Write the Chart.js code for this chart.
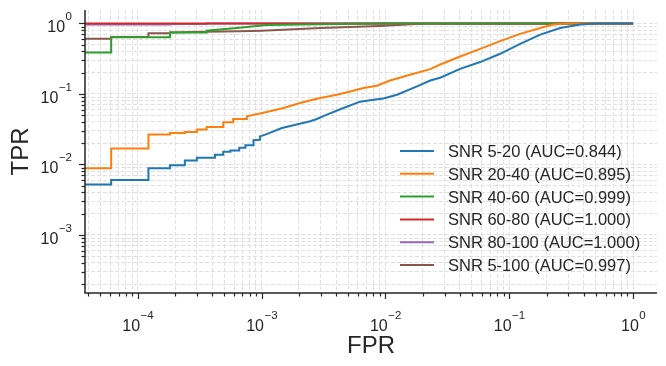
<!DOCTYPE html>
<html>
<head>
<meta charset="utf-8">
<script src="https://cdn.jsdelivr.net/npm/chart.js@4.4.1/dist/chart.umd.min.js"></script>
<style>
  body { margin: 0; background: #fff; }
</style>
</head>
<body>
<canvas id="roc" width="666" height="366"></canvas>
<script>
// ROC curves (fpr / tpr pairs, step corners included)
const seriesLabels = [
  'SNR 5-20 (AUC=0.844)',
  'SNR 20-40 (AUC=0.895)',
  'SNR 40-60 (AUC=0.999)',
  'SNR 60-80 (AUC=1.000)',
  'SNR 80-100 (AUC=1.000)',
  'SNR 5-100 (AUC=0.997)'
];
const seriesColors = ['#1f77b4', '#ff7f0e', '#2ca02c', '#d62728', '#9467bd', '#8c564b'];

const fpr5to20 = [2e-5, 6.1e-5, 6.1e-5, 1.22e-4, 1.22e-4, 1.82e-4, 1.82e-4, 2.4e-4, 2.4e-4, 3.0e-4, 3.0e-4, 4.2e-4, 4.2e-4,
  4.9e-4, 4.9e-4, 5.6e-4, 5.6e-4, 6.6e-4, 6.6e-4, 7.4e-4, 7.4e-4, 8.6e-4, 8.6e-4, 9.7e-4, 9.7e-4, 1.07e-3, 1.46e-3,
  1.81e-3, 2.47e-3, 2.79e-3, 3.37e-3, 4.58e-3, 6.25e-3, 8.0e-3, 9.64e-3, 0.0124, 0.018, 0.023, 0.0277, 0.0401, 0.0582,
  0.0845, 0.1225, 0.178, 0.258, 0.374, 0.51, 1];
const tpr5to20 = [0.0052, 0.0052, 0.0060, 0.0060, 0.0088, 0.0088, 0.0097, 0.0097, 0.0114, 0.0114, 0.0124, 0.0124, 0.0137,
  0.0137, 0.0151, 0.0151, 0.0157, 0.0157, 0.0172, 0.0172, 0.0187, 0.0187, 0.0220, 0.0223, 0.025, 0.0265, 0.0329,
  0.0359, 0.0409, 0.0441, 0.0508, 0.0631, 0.0776, 0.0828, 0.0863, 0.0975, 0.1277, 0.155, 0.1695, 0.227, 0.283,
  0.371, 0.513, 0.695, 0.863, 0.962, 1.0, 1.0];

const fpr20to40 = [2e-5, 6.1e-5, 6.1e-5, 1.22e-4, 1.22e-4, 1.82e-4, 1.82e-4, 2.4e-4, 2.4e-4, 3.0e-4, 3.0e-4, 3.6e-4, 3.6e-4,
  4.9e-4, 4.9e-4, 5.9e-4, 5.9e-4, 7.6e-4, 7.6e-4, 9.7e-4, 1.17e-3, 1.5e-3, 2.05e-3, 2.79e-3, 4.05e-3, 5.19e-3, 6.64e-3,
  8.53e-3, 0.0109, 0.0158, 0.023, 0.0277, 0.0401, 0.0582, 0.0845, 0.1225, 0.178, 0.2275, 0.29, 1];
const tpr20to40 = [0.0088, 0.0088, 0.0168, 0.0168, 0.0265, 0.0265, 0.028, 0.028, 0.0289, 0.0289, 0.0312, 0.0312, 0.034,
  0.034, 0.0395, 0.0395, 0.0441, 0.0441, 0.048, 0.0527, 0.0566, 0.0631, 0.0743, 0.0855, 0.0975, 0.1085, 0.121,
  0.1306, 0.155, 0.187, 0.225, 0.261, 0.339, 0.436, 0.56, 0.71, 0.863, 0.962, 1.0, 1.0];

const fpr40to60 = [2e-5, 6.1e-5, 6.1e-5, 1.82e-4, 1.82e-4, 3.6e-4, 3.6e-4, 6.6e-4, 1.1e-3, 3e-3, 9e-3, 0.02, 1];
const tpr40to60 = [0.386, 0.386, 0.638, 0.638, 0.741, 0.741, 0.79, 0.87, 0.95, 0.975, 0.995, 1.0, 1.0];

const fpr60to80 = [2e-5, 1];
const tpr60to80 = [1.0, 1.0];

const fpr80to100 = [2e-5, 1.82e-4, 1.82e-4, 3.6e-4, 3.6e-4, 1];
const tpr80to100 = [0.965, 0.965, 0.985, 0.985, 1.0, 1.0];

const fpr5to100 = [2e-5, 6.1e-5, 6.1e-5, 1.22e-4, 1.22e-4, 1.82e-4, 1.82e-4, 3.6e-4, 6.6e-4, 1e-3, 3e-3, 9e-3, 0.019, 1];
const tpr5to100 = [0.604, 0.604, 0.64, 0.64, 0.727, 0.727, 0.745, 0.76, 0.775, 0.79, 0.86, 0.92, 0.99, 1.0];

const allFpr = [fpr5to20, fpr20to40, fpr40to60, fpr60to80, fpr80to100, fpr5to100];
const allTpr = [tpr5to20, tpr20to40, tpr40to60, tpr60to80, tpr80to100, tpr5to100];

// tick labels (powers of ten)
const xTickPowers = [-4, -3, -2, -1, 0];
const yTickPowers = [-3, -2, -1, 0];

const X_MIN = 3.75e-5, X_MAX = 1.56;
const Y_MIN = 1.5e-4, Y_MAX = 1.55;

const FONT = '"Liberation Sans", Arial, sans-serif';
const INK = '#262626';

function logTicks(min, max) {
  const out = [];
  for (let p = Math.floor(Math.log10(min)); p <= Math.ceil(Math.log10(max)); p++) {
    for (let m = 1; m <= 9; m++) {
      const v = m * Math.pow(10, p);
      if (v >= min && v <= max) out.push({ value: v, major: m === 1 });
    }
  }
  return out;
}

function toPoints(xs, ys) {
  return xs.map((x, i) => ({ x: x, y: ys[i] }));
}

const SUPER_MINUS = '\u2212';

const axesPlugin = {
  id: 'mplAxes',
  afterDraw(chart) {
    const { ctx, chartArea, scales: { x, y } } = chart;
    ctx.save();

    // spines
    ctx.strokeStyle = INK;
    ctx.lineWidth = 1.5;
    ctx.beginPath();
    ctx.moveTo(chartArea.left, chartArea.top);
    ctx.lineTo(chartArea.left, chartArea.bottom);
    ctx.lineTo(chartArea.right, chartArea.bottom);
    ctx.stroke();

    // tick marks
    ctx.lineWidth = 1.2;
    x.ticks.forEach(t => {
      const px = Math.round(x.getPixelForValue(t.value)) + 0.5;
      const len = t.major ? 6 : 3.5;
      ctx.beginPath();
      ctx.moveTo(px, chartArea.bottom);
      ctx.lineTo(px, chartArea.bottom + len);
      ctx.stroke();
    });
    y.ticks.forEach(t => {
      const py = Math.round(y.getPixelForValue(t.value)) + 0.5;
      const len = t.major ? 6 : 3.5;
      ctx.beginPath();
      ctx.moveTo(chartArea.left, py);
      ctx.lineTo(chartArea.left - len, py);
      ctx.stroke();
    });

    // tick labels 10^n
    ctx.fillStyle = INK;
    ctx.textBaseline = 'alphabetic';
    ctx.textAlign = 'left';
    const baseFont = '16px ' + FONT;
    const expFont = '11.5px ' + FONT;
    xTickPowers.forEach(p => {
      const px = x.getPixelForValue(Math.pow(10, p));
      const expText = p < 0 ? SUPER_MINUS + Math.abs(p) : String(p);
      ctx.font = baseFont;
      const w1 = ctx.measureText('10').width;
      ctx.font = expFont;
      const w2 = ctx.measureText(expText).width;
      const left = px - (w1 + w2) / 2;
      ctx.font = baseFont;
      ctx.fillText('10', left, 331);
      ctx.font = expFont;
      ctx.fillText(expText, left + w1 + 0.5, 319);
    });
    yTickPowers.forEach(p => {
      const py = y.getPixelForValue(Math.pow(10, p));
      const expText = p < 0 ? SUPER_MINUS + Math.abs(p) : String(p);
      ctx.font = baseFont;
      const w1 = ctx.measureText('10').width;
      ctx.font = expFont;
      const w2 = ctx.measureText(expText).width;
      const right = chartArea.left - 13;
      ctx.font = baseFont;
      ctx.fillText('10', right - w2 - w1 - 0.5, py + 8.6);
      ctx.font = expFont;
      ctx.fillText(expText, right - w2, py - 3);
    });

    // axis titles
    ctx.font = '24px ' + FONT;
    ctx.textAlign = 'center';
    ctx.fillText('FPR', (chartArea.left + chartArea.right) / 2, 353);
    ctx.save();
    ctx.translate(28, (chartArea.top + chartArea.bottom) / 2);
    ctx.rotate(-Math.PI / 2);
    ctx.fillText('TPR', 0, 0);
    ctx.restore();

    // legend (no frame)
    ctx.textAlign = 'left';
    ctx.font = '16.5px ' + FONT;
    chart.data.datasets.forEach((ds, i) => {
      const cy = 151 + i * 22.8;
      ctx.strokeStyle = ds.borderColor;
      ctx.lineWidth = 2;
      ctx.beginPath();
      ctx.moveTo(400, cy);
      ctx.lineTo(434, cy);
      ctx.stroke();
      ctx.fillStyle = INK;
      ctx.fillText(ds.label, 448, cy + 6);
    });

    ctx.restore();
  }
};

const gridStyle = {
  color: '#e0e0e0',
  lineWidth: 1,
  drawTicks: false
};

new Chart(document.getElementById('roc').getContext('2d'), {
  type: 'line',
  data: {
    datasets: seriesLabels.map((label, i) => ({
      label: label,
      data: toPoints(allFpr[i], allTpr[i]),
      borderColor: seriesColors[i],
      backgroundColor: seriesColors[i],
      borderWidth: 2,
      pointRadius: 0,
      tension: 0,
      fill: false
    }))
  },
  options: {
    responsive: false,
    animation: false,
    layout: { padding: { left: 0, right: 9, top: 10, bottom: 0 } },
    scales: {
      x: {
        type: 'logarithmic',
        min: X_MIN,
        max: X_MAX,
        grid: gridStyle,
        border: { display: false, dash: [4, 2] },
        ticks: { display: false },
        afterBuildTicks(scale) { scale.ticks = logTicks(X_MIN, X_MAX); },
        afterFit(scale) { scale.height = 73; }
      },
      y: {
        type: 'logarithmic',
        min: Y_MIN,
        max: Y_MAX,
        grid: gridStyle,
        border: { display: false, dash: [4, 2] },
        ticks: { display: false },
        afterBuildTicks(scale) { scale.ticks = logTicks(Y_MIN, Y_MAX); },
        afterFit(scale) { scale.width = 85; }
      }
    },
    plugins: {
      legend: { display: false },
      tooltip: { enabled: false }
    }
  },
  plugins: [axesPlugin]
});
</script>
</body>
</html>
